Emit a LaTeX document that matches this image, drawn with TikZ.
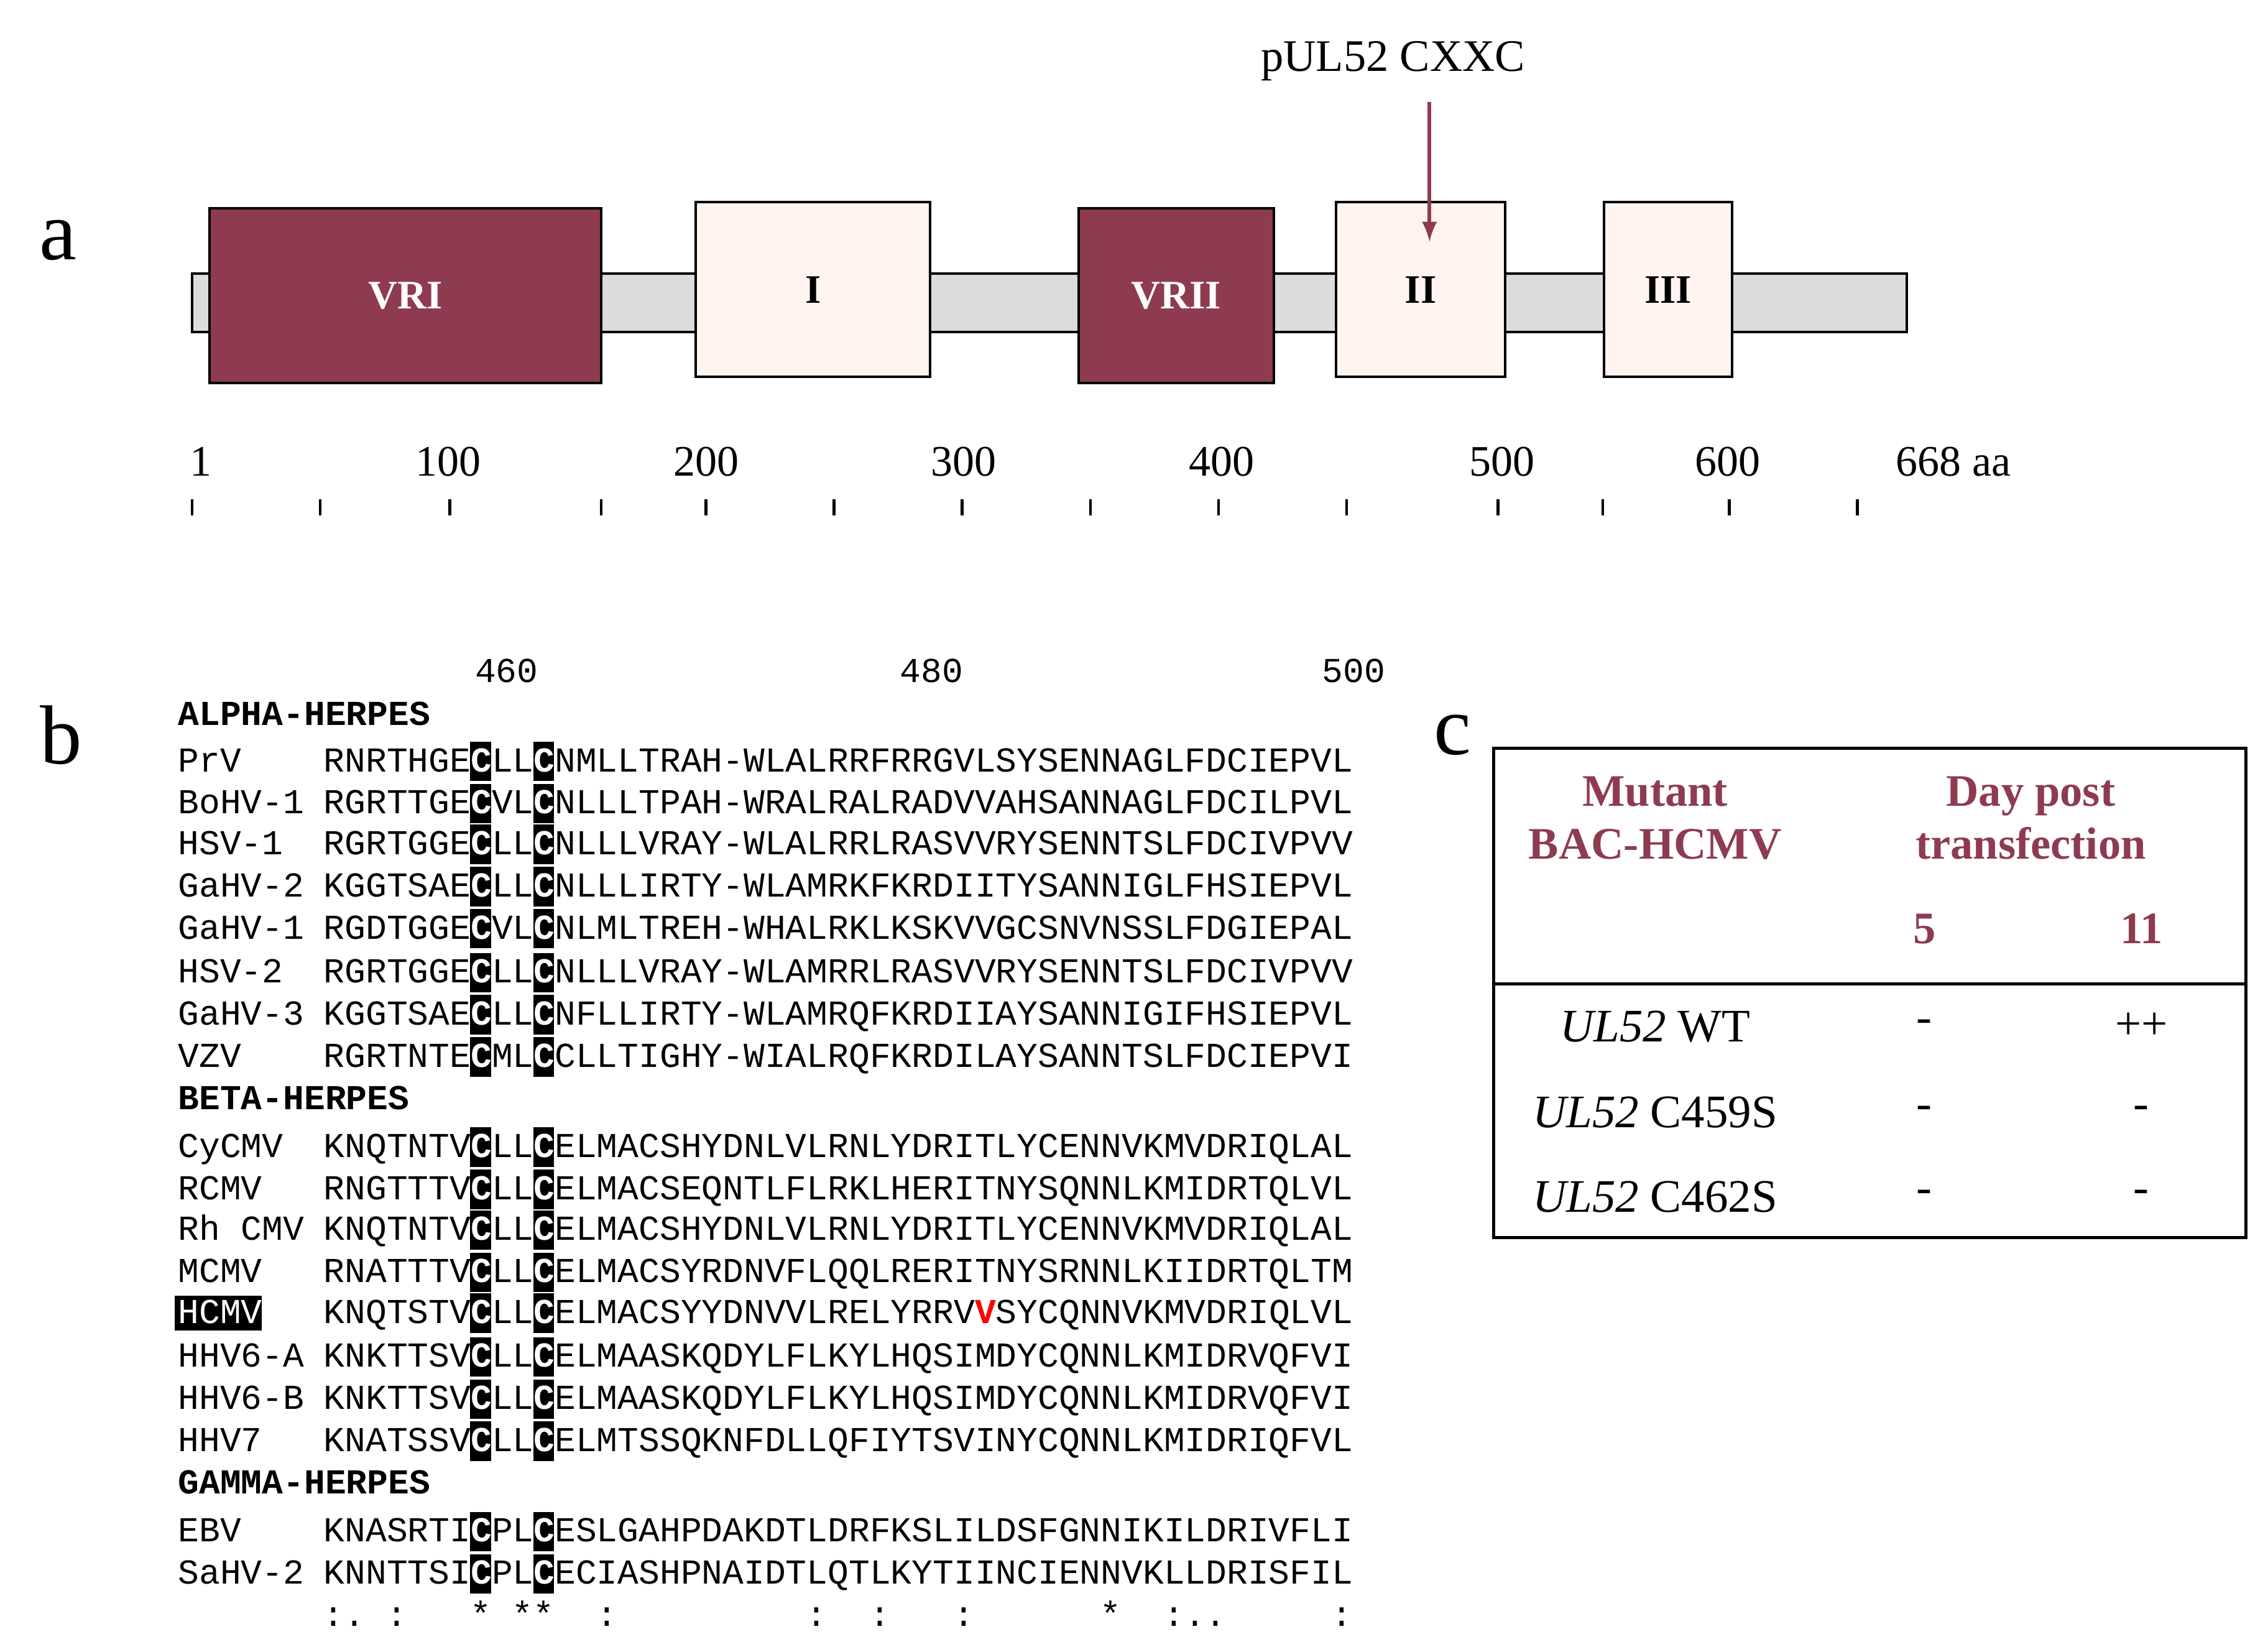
\documentclass[tikz,border=0pt]{standalone}
\usepackage{fontspec}
\setmainfont{Liberation Serif}
\newfontfamily\mono{Liberation Mono}
\definecolor{maroon}{HTML}{8E3B50}
\definecolor{pale}{HTML}{FFF4F0}
\definecolor{bargray}{HTML}{DCDCDC}
\begin{document}
\begin{tikzpicture}[x=0.4683pt,y=-0.4683pt,
  seqf/.style={font=\fontsize{11.26}{12}\mono,inner sep=0,anchor=base west},
  dombox/.style={draw=black,line width=0.8pt},
  axisnum/.style={font=\fontsize{14}{16}\selectfont,inner sep=0},
  hdr/.style={font=\fontsize{14.5}{17}\selectfont\bfseries,text=maroon,align=center,inner sep=0},
  cell/.style={font=\fontsize{15}{17}\selectfont,inner sep=0},
  plabel/.style={font=\fontsize{27}{30}\selectfont,inner sep=0}]
\useasboundingbox (0,0) rectangle (1558,1131);
% ---------- panel a ----------
\node[plabel] (la) at (40,165) {a};
\draw[fill=bargray,line width=0.8pt] (132,188) rectangle (1310,228);
\draw[dombox,fill=maroon] (144,143) rectangle (413,263);
\node[font=\fontsize{13}{15}\selectfont\bfseries,text=white] (vri) at (278.5,203) {VRI};
\draw[dombox,fill=pale] (478,139) rectangle (639,259);
\node[font=\fontsize{13}{15}\selectfont\bfseries] (d1) at (558.5,199) {I};
\draw[dombox,fill=maroon] (741,143) rectangle (875,263);
\node[font=\fontsize{13}{15}\selectfont\bfseries,text=white] (vrii) at (808,203) {VRII};
\draw[dombox,fill=pale] (918,139) rectangle (1034,259);
\node[font=\fontsize{13}{15}\selectfont\bfseries] (d2) at (976,199) {II};
\draw[dombox,fill=pale] (1102,139) rectangle (1190,259);
\node[font=\fontsize{13}{15}\selectfont\bfseries] (d3) at (1146,199) {III};
\node[font=\fontsize{14.5}{16}\selectfont] (cxxc) at (957,42) {pUL52 CXXC};
\coordinate (arrS) at (982,70);
\coordinate (arrE) at (982,166);
\draw[maroon,line width=1.2pt,-latex] (arrS) -- (arrE);
\foreach \x in {132,220,309,413,485,573,661,749,837,925,1029,1101,1188,1276}
  \draw[line width=0.9pt] (\x,343) -- (\x,354);
\foreach \x/\t in {138/1,308/100,485/200,662/300,839/400,1032/500,1187/600}
  \node[axisnum] at (\x,317) {\t};
\node[axisnum,anchor=west] (aa) at (1302,317) {668 aa};
% ---------- panel b ----------
\node[plabel] (lb) at (42,505) {b};
\foreach \x/\t in {348/460,640/480,930/500}
  \node[font=\fontsize{11.26}{12}\mono,inner sep=0] at (\x,461) {\t};
\foreach \y/\t in {492/ALPHA-HERPES,756/BETA-HERPES,1020/GAMMA-HERPES}
  \node[seqf,font=\fontsize{11.26}{12}\mono\bfseries] at (122,\y+6) {\t};
\foreach \y/\n/\a/\b/\c in {
  523/PrV/RNRTHGE/LL/NMLLTRAH-WLALRRFRRGVLSYSENNAGLFDCIEPVL,
  552/BoHV-1/RGRTTGE/VL/NLLLTPAH-WRALRALRADVVAHSANNAGLFDCILPVL,
  580/HSV-1/RGRTGGE/LL/NLLLVRAY-WLALRRLRASVVRYSENNTSLFDCIVPVV,
  609/GaHV-2/KGGTSAE/LL/NLLLIRTY-WLAMRKFKRDIITYSANNIGLFHSIEPVL,
  638/GaHV-1/RGDTGGE/VL/NLMLTREH-WHALRKLKSKVVGCSNVNSSLFDGIEPAL,
  668/HSV-2/RGRTGGE/LL/NLLLVRAY-WLAMRRLRASVVRYSENNTSLFDCIVPVV,
  697/GaHV-3/KGGTSAE/LL/NFLLIRTY-WLAMRQFKRDIIAYSANNIGIFHSIEPVL,
  726/VZV/RGRTNTE/ML/CLLTIGHY-WIALRQFKRDILAYSANNTSLFDCIEPVI,
  788/CyCMV/KNQTNTV/LL/ELMACSHYDNLVLRNLYDRITLYCENNVKMVDRIQLAL,
  817/RCMV/RNGTTTV/LL/ELMACSEQNTLFLRKLHERITNYSQNNLKMIDRTQLVL,
  845/Rh CMV/KNQTNTV/LL/ELMACSHYDNLVLRNLYDRITLYCENNVKMVDRIQLAL,
  874/MCMV/RNATTTV/LL/ELMACSYRDNVFLQQLRERITNYSRNNLKIIDRTQLTM,
  902/{}/KNQTSTV/LL/ELMACSYYDNVVLRELYRRV\textcolor{red}{\bfseries V}SYCQNNVKMVDRIQLVL,
  932/HHV6-A/KNKTTSV/LL/ELMAASKQDYLFLKYLHQSIMDYCQNNLKMIDRVQFVI,
  961/HHV6-B/KNKTTSV/LL/ELMAASKQDYLFLKYLHQSIMDYCQNNLKMIDRVQFVI,
  990/HHV7/KNATSSV/LL/ELMTSSQKNFDLLQFIYTSVINYCQNNLKMIDRIQFVL,
  1052/EBV/KNASRTI/PL/ESLGAHPDAKDTLDRFKSLILDSFGNNIKILDRIVFLI,
  1081/SaHV-2/KNNTTSI/PL/ECIASHPNAIDTLQTLKYTIINCIENNVKLLDRISFIL}{
  \fill[black] (323,\y-13.5) rectangle (337.4,\y+13.5);
  \fill[black] (366.3,\y-13.5) rectangle (380.7,\y+13.5);
  \node[seqf] at (122,\y+7) {\n};
  \node[seqf] at (222,\y+7) {\a\textcolor{white}{\bfseries C}\b\textcolor{white}{\bfseries C}\c};
}
\fill[black] (120,890) rectangle (180,914);
\node[seqf,text=white] (hcmv) at (122,909) {HCMV};
\foreach \col/\ch in {0/:,1/.,3/:,7/*,9/*,10/*,13/:,23/:,26/:,30/:,37/*,40/:,41/.,42/.,48/:}
  \node[font=\fontsize{11.26}{12}\mono,inner sep=0,anchor=base] at ({222+(\col+0.5)*14.43},1117) {\ch};
% ---------- panel c ----------
\node[plabel] (lc) at (998,505) {c};
\draw[line width=1pt] (1026,514) rectangle (1543,850);
\draw[line width=1pt] (1026,676) -- (1543,676);
\node[hdr] (h1) at (1137,562) {Mutant\\BAC-HCMV};
\node[hdr] (h2) at (1395,562) {Day post\\transfection};
\node[hdr] (h5) at (1322,638) {5};
\node[hdr] (h11) at (1471,638) {11};
\foreach \y/\m/\a/\b in {705/WT/-/++,764/C459S/-/-,822/C462S/-/-}{
  \node[cell] at (1137,\y) {\textit{UL52} \m};
  \node[cell] at (1322,\y) {\a};
  \node[cell] at (1471,\y) {\b};
}
\end{tikzpicture}
\end{document}
